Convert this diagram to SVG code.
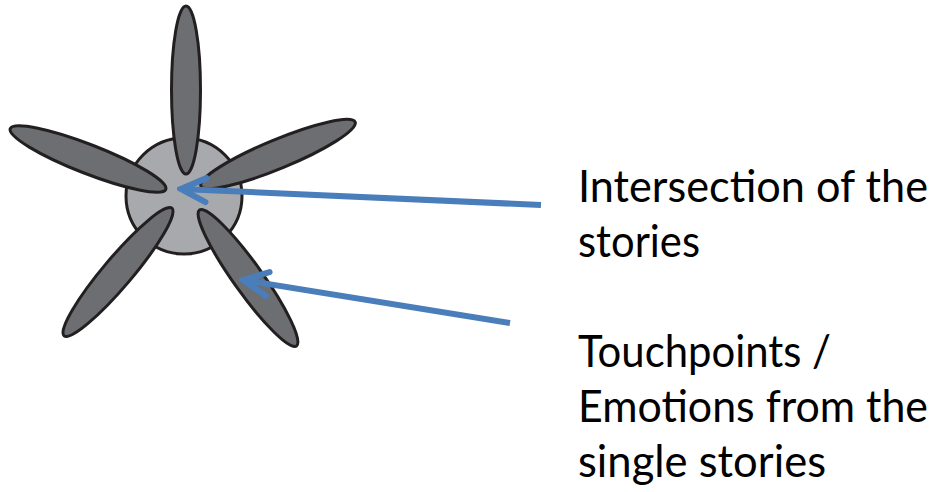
<svg xmlns="http://www.w3.org/2000/svg" width="945" height="492" viewBox="0 0 945 492">
  <style>
    .petal { fill: #6d6e71; stroke: #231f20; stroke-width: 3; }
    .hub { fill: #a7a9ac; stroke: #231f20; stroke-width: 3; }
    .conn { stroke: #4a7ebb; stroke-width: 6; fill: none; stroke-linecap: butt; }
    .label { font-family: Lato, "Open Sans", "Liberation Sans", sans-serif; font-size: 45px; fill: #000; }
  </style>
  <defs>
    <marker id="arrow" markerUnits="userSpaceOnUse" viewBox="-32 -16 36 32" refX="0" refY="0" markerWidth="36" markerHeight="32" orient="auto">
      <path d="M-25,-12 L0,0 L-25,12" fill="none" stroke="#4a7ebb" stroke-width="6" stroke-linecap="round" stroke-linejoin="miter"/>
    </marker>
  </defs>
  <rect width="945" height="492" fill="#ffffff"/>
  <g id="flower">
    <g id="hub"><circle class="hub" cx="184" cy="196" r="58"/></g>
    <g id="petal-top"><ellipse class="petal" cx="186" cy="90" rx="14.5" ry="84"/></g>
    <g id="petal-upper-right"><ellipse class="petal" cx="278" cy="154" rx="83.5" ry="14.5" transform="rotate(-22.5 278 154)"/></g>
    <g id="petal-upper-left"><ellipse class="petal" cx="88" cy="159" rx="83.5" ry="14.5" transform="rotate(21.3 88 159)"/></g>
    <g id="petal-lower-left"><ellipse class="petal" cx="118" cy="272" rx="83.5" ry="14.5" transform="rotate(-49.8 118 272)"/></g>
    <g id="petal-lower-right"><ellipse class="petal" cx="248" cy="278" rx="83.5" ry="14.5" transform="rotate(54.5 248 278)"/></g>
  </g>
  <g id="connectors">
    <line class="conn" x1="541" y1="205" x2="181" y2="189" marker-end="url(#arrow)"/>
    <line class="conn" x1="510" y1="323" x2="243" y2="280" marker-end="url(#arrow)"/>
  </g>
  <g id="label-intersection">
    <text class="label" x="578" y="202" textLength="350" lengthAdjust="spacingAndGlyphs">Intersection of the</text>
    <text class="label" x="578" y="257" textLength="122" lengthAdjust="spacingAndGlyphs">stories</text>
  </g>
  <g id="label-touchpoints">
    <text class="label" x="578" y="367" textLength="253" lengthAdjust="spacingAndGlyphs">Touchpoints /</text>
    <text class="label" x="578" y="422" textLength="350" lengthAdjust="spacingAndGlyphs">Emotions from the</text>
    <text class="label" x="578" y="477" textLength="248" lengthAdjust="spacingAndGlyphs">single stories</text>
  </g>
</svg>
